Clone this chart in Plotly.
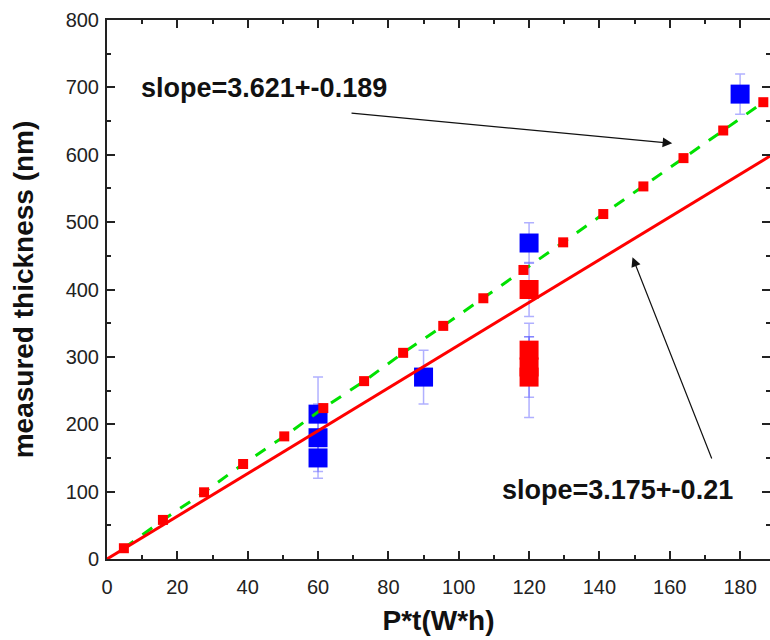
import plotly.graph_objects as go

# small red squares (connected by green dashed line)
pt_x = [4.8, 15.9, 27.6, 38.7, 50.4, 61.5, 73.1, 84.2, 95.6, 107.0, 118.4, 129.7, 141.1, 152.5, 163.9, 175.2, 186.6]
pt_y = [16, 58, 99, 141, 182, 224, 264, 306, 346, 387, 429, 470, 512, 553, 595, 636, 678]

# linear fit (red solid line) end points
fit_x = [0, 188.5]
fit_y = [0, 598]

# blue measured points with error bars
blue_x = [60, 60, 60, 90, 120, 180]
blue_y = [215, 180, 150, 270, 469, 690]
blue_err = [55, 50, 30, 40, 30, 30]

# red measured points with error bars
red_x = [120, 120, 120, 120]
red_y = [400, 310, 285, 270]
red_err = [40, 40, 45, 60]

FONT = "Liberation Sans, Arial, sans-serif"
ERRC = "rgba(80,80,255,0.45)"

fig = go.Figure()

fig.add_trace(go.Scatter(
    x=blue_x, y=blue_y, mode="markers",
    marker=dict(symbol="square", size=19, color="rgb(0,0,255)", line=dict(width=0)),
    error_y=dict(type="data", array=blue_err, color=ERRC, thickness=1.5, width=5),
    showlegend=False))

fig.add_trace(go.Scatter(
    x=red_x, y=red_y, mode="markers",
    marker=dict(symbol="square", size=19, color="rgb(255,0,0)", line=dict(width=0)),
    error_y=dict(type="data", array=red_err, color=ERRC, thickness=1.5, width=5),
    showlegend=False))

fig.add_trace(go.Scatter(
    x=pt_x, y=pt_y, mode="lines",
    line=dict(color="rgb(0,225,0)", width=3, dash="12px,11px"),
    showlegend=False))

fig.add_trace(go.Scatter(
    x=fit_x, y=fit_y, mode="lines",
    line=dict(color="rgb(255,0,0)", width=3),
    showlegend=False))

fig.add_trace(go.Scatter(
    x=pt_x, y=pt_y, mode="markers",
    marker=dict(symbol="square", size=10, color="rgb(255,0,0)", line=dict(width=0)),
    showlegend=False))

axis_common = dict(
    showline=True, linewidth=2, linecolor="#222", mirror="ticks",
    ticks="inside", ticklen=8, tickwidth=2, tickcolor="#222",
    showgrid=False, zeroline=False,
    tickfont=dict(family=FONT, size=20, color="#222"),
)

fig.update_xaxes(
    range=[0, 188.5], dtick=20, tick0=0, ticklabelstandoff=9,
    minor=dict(ticks="inside", ticklen=4, tickwidth=2, dtick=10, tickcolor="#222"),
    title=dict(text="<b>P*t(W*h)</b>", font=dict(family=FONT, size=28, color="#111"), standoff=13),
    **axis_common)
fig.update_yaxes(
    range=[0, 800], dtick=100, tick0=0, ticklabelstandoff=2,
    minor=dict(ticks="inside", ticklen=4, tickwidth=2, dtick=50, tickcolor="#222"),
    title=dict(text="<b>measured thickness (nm)</b>", font=dict(family=FONT, size=28, color="#111"), standoff=24),
    **axis_common)

fig.add_annotation(x=44.7, y=699, xref="x", yref="y", showarrow=False,
                   text="<b>slope=3.621+-0.189</b>", font=dict(family=FONT, size=27, color="#111"))
fig.add_annotation(x=145.1, y=102, xref="x", yref="y", showarrow=False,
                   text="<b>slope=3.175+-0.21</b>", font=dict(family=FONT, size=27, color="#111"))

fig.add_annotation(x=160.7, y=617, ax=69.1, ay=662, xref="x", yref="y", axref="x", ayref="y",
                   text="", showarrow=True, arrowhead=2, arrowsize=1.6, arrowwidth=1.2, arrowcolor="#111")
fig.add_annotation(x=149.4, y=448, ax=172.1, ay=147, xref="x", yref="y", axref="x", ayref="y",
                   text="", showarrow=True, arrowhead=2, arrowsize=1.6, arrowwidth=1.2, arrowcolor="#111")

fig.update_layout(
    width=770, height=640,
    margin=dict(l=107, r=0, t=20, b=81, autoexpand=False),
    plot_bgcolor="white", paper_bgcolor="white",
    showlegend=False,
)

fig.write_html("out.html")
